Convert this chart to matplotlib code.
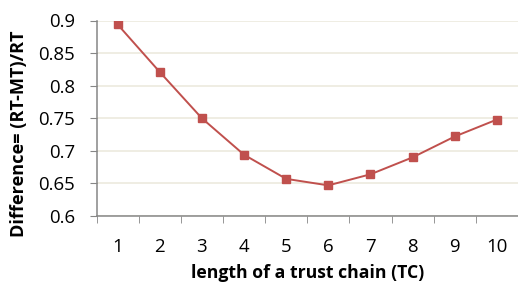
import matplotlib
matplotlib.use("Agg")
import matplotlib.pyplot as plt

# data
chain_length = [1, 2, 3, 4, 5, 6, 7, 8, 9, 10]
difference = [0.894, 0.821, 0.750, 0.694, 0.657, 0.647, 0.664, 0.690, 0.722, 0.748]
y_ticks = [0.6, 0.65, 0.7, 0.75, 0.8, 0.85, 0.9]
y_tick_labels = ["0.6", "0.65", "0.7", "0.75", "0.8", "0.85", "0.9"]

plt.rcParams["font.family"] = ["Open Sans", "DejaVu Sans"]

fig = plt.figure(figsize=(5.18, 2.83), dpi=100)
ax = fig.add_axes([96.5 / 518, 1 - 216 / 283, (518 - 96.5) / 518, (216 - 20.5) / 283])

ax.plot(chain_length, difference, color="#C0504D", linewidth=1.4,
        marker="s", markersize=6.3, markerfacecolor="#C0504D",
        markeredgecolor="#C0504D", zorder=3)

ax.set_xlim(0.5, 10.5)
ax.set_ylim(0.6, 0.9)
ax.set_yticks(y_ticks)
ax.set_yticklabels(y_tick_labels)
ax.set_xticks(chain_length)
ax.set_xticks([x + 0.5 for x in range(0, 10)], minor=True)

ax.grid(axis="y", color="#EEECE1", linewidth=1.3)
ax.set_axisbelow(True)

for side in ["top", "right"]:
    ax.spines[side].set_visible(False)
ax.spines["left"].set_color("#868686")
ax.spines["bottom"].set_color("#868686")
ax.spines["left"].set_linewidth(1.1)
ax.spines["bottom"].set_linewidth(1.1)

ax.tick_params(axis="y", which="major", length=5, color="#868686",
               labelsize=13.4, pad=10.5, direction="out")
ax.tick_params(axis="x", which="major", length=0, labelsize=13.4, pad=15.5)
ax.tick_params(axis="x", which="minor", length=5, color="#868686", direction="out")

ax.set_xlabel("length of a trust chain (TC)", fontsize=12.7, fontweight="bold", labelpad=6)
ax.set_ylabel("Difference= (RT-MT)/RT", fontsize=13.1, fontweight="bold")
# label sits a bit below the middle of the plot, as in the original
ax.yaxis.set_label_coords(-0.163, 0.42)

fig.savefig("out.png", dpi=100)
